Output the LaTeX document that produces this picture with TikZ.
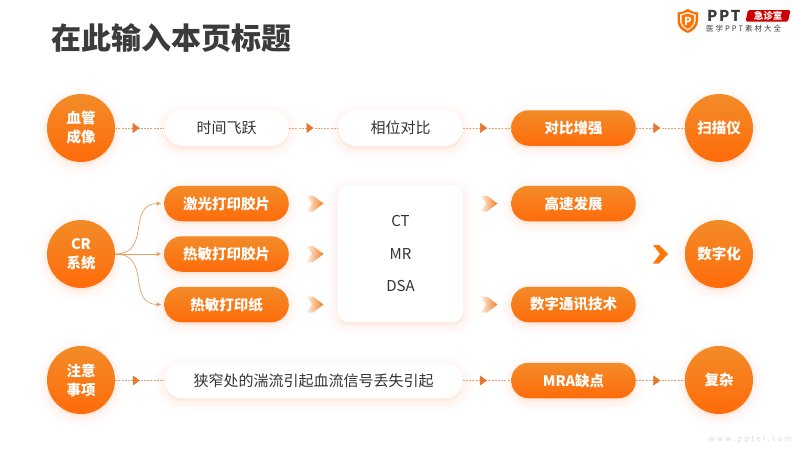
\documentclass[tikz,border=0pt]{standalone}
\usepackage{fontspec}
\setmainfont{Noto Sans CJK SC}
\usetikzlibrary{arrows.meta,decorations.markings,shapes.geometric,calc}
\definecolor{ortop}{HTML}{F28C28}
\definecolor{orbot}{HTML}{FF6B0A}
\definecolor{glowc}{HTML}{FFA266}
\definecolor{linec}{HTML}{E9A06A}
\definecolor{tric}{HTML}{E8772E}
\definecolor{titlec}{HTML}{3B3B3B}
\definecolor{bodyc}{HTML}{333333}
\definecolor{curvec}{HTML}{E3A064}
\tikzset{
  x=1pt,y=-1pt,
  softglow/.style={
    preaction={draw=glowc,fill=glowc,line width=20pt,opacity=.012,transform canvas={yshift=-3pt}},
    preaction={draw=glowc,fill=glowc,line width=16pt,opacity=.016,transform canvas={yshift=-3pt}},
    preaction={draw=glowc,fill=glowc,line width=12pt,opacity=.02,transform canvas={yshift=-3pt}},
    preaction={draw=glowc,fill=glowc,line width=8pt,opacity=.024,transform canvas={yshift=-3pt}},
    preaction={draw=glowc,fill=glowc,line width=4pt,opacity=.03,transform canvas={yshift=-2pt}}},
  grad/.style={top color=ortop,bottom color=orbot,middle color=ortop!50!orbot,draw=none},
  circ/.style={circle,minimum size=68pt,inner sep=0pt,grad,softglow,text=white,font=\bfseries\fontsize{14.5}{19}\selectfont,align=center},
  orpill/.style={rounded corners=17.5pt,minimum width=124.5pt,minimum height=35.5pt,inner sep=0pt,grad,softglow,text=white,font=\bfseries\fontsize{14.5}{18}\selectfont},
  whpill/.style={rounded corners=17.5pt,minimum width=124.5pt,minimum height=35.5pt,inner sep=0pt,fill=white,softglow,text=bodyc,font=\fontsize{15}{18}\selectfont},
  dashline/.style={draw=linec,line width=.7pt,dash pattern=on 2pt off 1.2pt,
    postaction={decorate},decoration={markings,mark=at position .5 with {\arrow[tric,solid]{Triangle[length=7pt,width=10pt]}}}},
  curveline/.style={draw=curvec,line width=.7pt,-{Stealth[length=5pt,width=4.5pt]}},
  lightchev/.style={left color=ortop!12,right color=ortop!90!red,draw=none},
  chev/.pic={\path[pic actions] (-8.5,-8) -- (-2,-8) -- (8.5,0) -- (-2,8) -- (-8.5,8) -- (-3,0) -- cycle;}
}
\begin{document}
\begin{tikzpicture}
\useasboundingbox (0,0) rectangle (800,450);
\fill[white] (0,0) rectangle (800,450);
% title
\node[anchor=west,inner sep=0pt,text=titlec,font=\bfseries\fontsize{30}{34}\selectfont] (title) at (51,38) {在此输入本页标题};
% logo
\fill[orange!85!red] (677.5,12.5) .. controls (682,12) and (685,11) .. (687.8,9) .. controls (690.5,11) and (693.5,12) .. (698,12.5) -- (698,21) .. controls (698,27) and (693,31) .. (687.8,33) .. controls (682,31) and (677.5,27) .. (677.5,21) -- cycle;
\fill[white] (680,14.5) -- (687.8,12) -- (695.5,14.5) -- (695.5,21) .. controls (695.5,25) and (691,28.5) .. (687.8,30.5) .. controls (684,28.5) and (680,25) .. (680,21) -- cycle;
\fill[orange!90!red] (681.5,15.5) -- (687.8,13.5) -- (694,15.5) -- (694,21) .. controls (694,24.5) and (690.5,27.5) .. (687.8,29) .. controls (685,27.5) and (681.5,24.5) .. (681.5,21) -- cycle;
\node[inner sep=0pt,text=white,font=\bfseries\fontsize{11}{11}\selectfont] (logop) at (687.8,21) {P};
\node[anchor=west,inner sep=0pt,text=titlec,font=\bfseries\fontsize{15}{15}\selectfont] (logoa) at (707,15.5) {P\hspace{1.5pt}P\hspace{1.5pt}T};
\fill[red!80!black,rounded corners=1.5pt] (748,10) -- (790.5,10) -- (788,21.5) -- (745.5,21.5) -- cycle;
\node[inner sep=0pt,text=white,font=\bfseries\fontsize{9.5}{9}\selectfont] (logob) at (768,15.8) {急诊室};
\node[anchor=west,inner sep=0pt,text=titlec,font=\fontsize{7.5}{8}\selectfont] (logoc) at (706,28.5) {医\hspace{2pt}学\hspace{2pt}P\hspace{2pt}P\hspace{2pt}T\hspace{2pt}素\hspace{2pt}材\hspace{2pt}大\hspace{2pt}全};
% watermark
\node[anchor=east,inner sep=0pt,text=black!14,font=\fontsize{7.5}{8}\selectfont] (wm) at (792,440) {w\hspace{2.2pt}w\hspace{2.2pt}w\hspace{2.2pt}.\hspace{2.2pt}p\hspace{2.2pt}p\hspace{2.2pt}t\hspace{2.2pt}e\hspace{2.2pt}r\hspace{2.2pt}.\hspace{2.2pt}c\hspace{2.2pt}o\hspace{2.2pt}m};
% nodes
\node[circ] (c1) at (81,128) {血管\\成像};
\node[whpill] (a1) at (226.5,128) {时间飞跃};
\node[whpill] (a2) at (400.5,128) {相位对比};
\node[orpill] (a3) at (573.5,128) {对比增强};
\node[circ] (c2) at (719,128) {扫描仪};
\node[circ] (d1) at (81,254) {CR\\系统};
\node[orpill] (b1) at (226.5,203.5) {激光打印胶片};
\node[orpill] (b2) at (226.5,254) {热敏打印胶片};
\node[orpill] (b3) at (226.5,304.5) {热敏打印纸};
\node[whpill,rounded corners=10pt,minimum width=125pt,minimum height=137pt,align=center,font=\fontsize{15}{32.5}\selectfont] (box) at (400.5,253.5) {CT\\MR\\DSA};
\node[orpill] (e1) at (573.5,203.5) {高速发展};
\node[orpill] (e2) at (573.5,304.5) {数字通讯技术};
\node[circ] (d2) at (719,254) {数字化};
\node[circ] (f1) at (81,380) {注意\\事项};
\node[whpill,minimum width=298pt] (g1) at (313.5,380.5) {狭窄处的湍流引起血流信号丢失引起};
\node[orpill] (g2) at (573.5,380.5) {MRA缺点};
\node[circ] (f2) at (719,380) {复杂};
% dashed connectors
\draw[dashline] (c1) -- (a1);
\draw[dashline] (a1) -- (a2);
\draw[dashline] (a2) -- (a3);
\draw[dashline] (a3) -- (c2);
\draw[dashline] (f1.east|-g1.west) -- (g1.west);
\draw[dashline] (g1.east) -- (g2.west);
\draw[dashline] (g2.east) -- (f2.west|-g2.east);
% curved connectors
\draw[curveline] (d1.east) .. controls (152,254) and (126,203.5) .. ($(b1.west)+(-3,0)$);
\draw[curveline] (d1.east) -- ($(b2.west)+(-3,0)$);
\draw[curveline] (d1.east) .. controls (152,254) and (126,304.5) .. ($(b3.west)+(-3,0)$);
% chevrons
\foreach \px/\py in {315/203.5,315/254,315/304.5,489/203.5,489/304.5}
  \pic[lightchev] at (\px,\py) {chev};
\fill[orange!60!orbot] (653,245) -- (659,245) -- (668,254) -- (659,263.5) -- (653,263.5) -- (660,254) -- cycle;
\end{tikzpicture}
\end{document}
